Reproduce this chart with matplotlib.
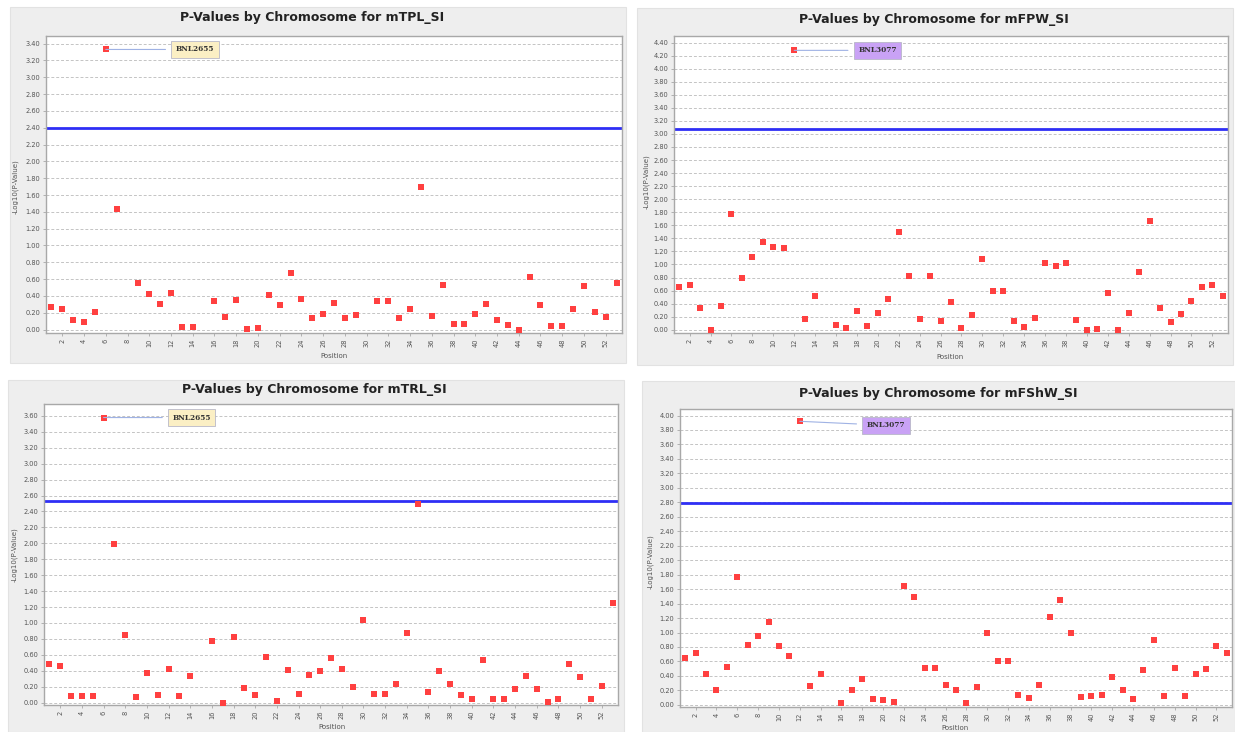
import numpy as np
import matplotlib
matplotlib.use("Agg")
from matplotlib import pyplot as plt
from matplotlib.patches import Rectangle

# -Log10(P) per position, nan = no value drawn
nan = np.nan
positions = np.arange(1, 54)
tick_positions = np.arange(2, 53, 2)

mtpl = [0.27, 0.25, 0.12, 0.09, 0.21, 3.33, 1.43, nan, 0.55, 0.42,
        0.30, 0.43, 0.03, 0.03, nan, 0.34, 0.15, 0.35, 0.01, 0.02,
        0.41, 0.29, 0.67, 0.37, 0.14, 0.19, 0.32, 0.14, 0.17, nan,
        0.34, 0.34, 0.14, 0.25, 1.70, 0.16, 0.53, 0.07, 0.07, 0.19,
        0.31, 0.12, 0.05, 0.00, 0.63, 0.29, 0.04, 0.04, 0.25, 0.52,
        0.21, 0.15, 0.56]
mfpw = [0.65, 0.68, 0.34, 0.00, 0.36, 1.78, 0.80, 1.12, 1.34, 1.26,
        1.25, 4.28, 0.16, 0.52, nan, 0.07, 0.03, 0.29, 0.06, 0.25,
        0.47, 1.50, 0.83, 0.17, 0.82, 0.13, 0.43, 0.03, 0.23, 1.08,
        0.60, 0.60, 0.14, 0.04, 0.18, 1.03, 0.98, 1.03, 0.15, 0.00,
        0.01, 0.57, 0.00, 0.26, 0.88, 1.66, 0.33, 0.12, 0.24, 0.44,
        0.66, 0.69, 0.52]
mtrl = [0.48, 0.46, 0.08, 0.08, 0.08, 3.58, 1.99, 0.85, 0.07, 0.37,
        0.10, 0.42, 0.08, 0.34, nan, 0.77, 0.00, 0.82, 0.18, 0.10,
        0.57, 0.02, 0.41, 0.11, 0.35, 0.40, 0.56, 0.42, 0.19, 1.04,
        0.11, 0.11, 0.23, 0.87, 2.49, 0.13, 0.40, 0.24, 0.10, 0.04,
        0.54, 0.04, 0.05, 0.17, 0.33, 0.17, 0.01, 0.04, 0.49, 0.32,
        0.04, 0.21, 1.25]
mfshw = [0.65, 0.72, 0.42, 0.21, 0.52, 1.77, 0.83, 0.95, 1.14, 0.81,
         0.67, 3.92, 0.26, 0.42, nan, 0.03, 0.20, 0.36, 0.08, 0.06,
         0.04, 1.64, 1.49, 0.51, 0.51, 0.27, 0.21, 0.03, 0.25, 1.00,
         0.61, 0.61, 0.13, 0.09, 0.28, 1.22, 1.45, 0.99, 0.11, 0.12,
         0.13, 0.39, 0.21, 0.08, 0.48, 0.89, 0.12, 0.51, 0.12, 0.42,
         0.49, 0.81, 0.71]

traits = ["mTPL_SI", "mFPW_SI", "mTRL_SI", "mFShW_SI"]
thresholds = [2.40, 3.07, 2.53, 2.79]
y_tops = [3.40, 4.40, 3.60, 4.00]
marker_names = ["BNL2655", "BNL3077", "BNL2655", "BNL3077"]
marker_pos = [6, 12, 6, 12]
box_colors = ["#fbefc4", "#c9a2f5", "#fbefc4", "#c9a2f5"]

W, H = 1235, 732
fig = plt.figure(figsize=(W / 100, H / 100), dpi=100)
fig.patch.set_facecolor("white")

def fx(px):
    return px / W

def fy(py):
    return 1 - py / H

# panel background boxes (left, top, right, bottom) in pixels
panels = [(10, 7, 626, 363), (637, 8, 1233, 365), (8, 380, 624, 732), (642, 381, 1235, 732)]
# plot areas
areas = [(46, 36, 622, 333), (674, 36, 1228, 333), (44, 404, 618, 705), (680, 409, 1232, 707)]
ylims = [(-0.04, 3.49), (-0.05, 4.50), (-0.03, 3.75), (-0.03, 4.09)]
title_xy = [(312, 18), (934, 19), (314, 389), (938, 393)]
xlabel_xy = [(334, 356), (950, 357), (332, 727), (955, 728)]
ylabel_xy = [(15, 187), (646, 182), (14, 555), (650, 562)]
box_offsets = [(70, 0), (64, 0), (69, 0), (67, -4)]

series = [mtpl, mfpw, mtrl, mfshw]

for i in range(4):
    l, t, r, b = panels[i]
    fig.patches.append(Rectangle((fx(l), fy(b)), fx(r - l), (b - t) / H,
                                 transform=fig.transFigure, facecolor="#eeeeee",
                                 edgecolor="#e2e2e2", lw=0.8, zorder=-10))

    l, t, r, b = areas[i]
    ax = fig.add_axes([fx(l), fy(b), fx(r - l), (b - t) / H])
    ax.set_zorder(1)
    ax.set_facecolor("white")
    for s in ax.spines.values():
        s.set_color("#a8a8a8")
        s.set_linewidth(1.0)

    ax.set_xlim(0.5, 53.5)
    ax.set_ylim(*ylims[i])
    yt = np.arange(0, y_tops[i] + 0.001, 0.2)
    ax.set_yticks(yt)
    ax.set_yticklabels(["%.2f" % v for v in yt], fontsize=4.8, color="#555555")
    ax.set_xticks(tick_positions)
    ax.set_xticklabels([str(v) for v in tick_positions], fontsize=4.8,
                       color="#555555", rotation=90)
    ax.tick_params(length=2, width=0.5, color="#999999", pad=2)
    ax.yaxis.grid(True, linestyle=(0, (3, 2)), color="#c4c4c4", lw=0.7)
    ax.set_axisbelow(True)

    ax.axhline(thresholds[i], color="#2f2ff5", lw=2.0, zorder=2)
    ax.plot(positions, series[i], linestyle="none", marker="s", markersize=3.8,
            color="#ff4040", markeredgewidth=0, zorder=3)

    mp = marker_pos[i]
    ox, oy = box_offsets[i]
    ax.annotate(marker_names[i], xy=(mp, series[i][mp - 1]), xytext=(ox, oy),
                textcoords="offset pixels", ha="left", va="center",
                fontsize=5.3, family="serif", fontweight="bold", color="#333333",
                bbox=dict(boxstyle="square,pad=0.6", fc=box_colors[i],
                          ec="#b8b8c8", lw=0.6),
                arrowprops=dict(arrowstyle="-", color="#9fb2e4", lw=0.8,
                                shrinkA=4, shrinkB=0),
                zorder=4)

    fig.text(fx(title_xy[i][0]), fy(title_xy[i][1]),
             "P-Values by Chromosome for " + traits[i],
             ha="center", va="center", fontsize=9, fontweight="bold", color="#222222")
    fig.text(fx(xlabel_xy[i][0]), fy(xlabel_xy[i][1]), "Position",
             ha="center", va="center", fontsize=5, color="#555555")
    fig.text(fx(ylabel_xy[i][0]), fy(ylabel_xy[i][1]), "-Log10(P-Value)",
             ha="center", va="center", fontsize=5, color="#555555", rotation=90)

fig.savefig("out.png", dpi=100)
